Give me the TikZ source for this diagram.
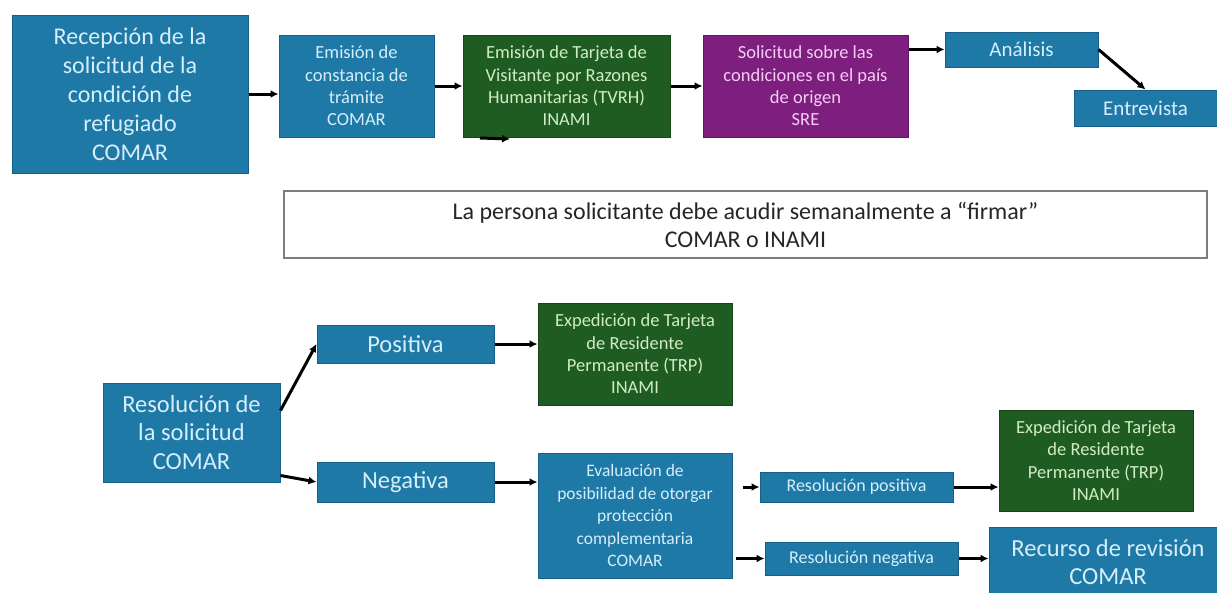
\documentclass[tikz,border=0pt]{standalone}
\usepackage{fontspec}
\setmainfont{Carlito}
\usetikzlibrary{arrows.meta,calc}
\definecolor{cblue}{RGB}{31,121,167}
\definecolor{cbluedark}{RGB}{22,95,135}
\definecolor{cbluetext}{RGB}{214,238,250}
\definecolor{cgreen}{RGB}{30,92,34}
\definecolor{cgreendark}{RGB}{22,70,26}
\definecolor{cgreentext}{RGB}{210,236,196}
\definecolor{cpurple}{RGB}{126,31,128}
\definecolor{cpurpledark}{RGB}{100,22,102}
\definecolor{cpurpletext}{RGB}{244,206,244}
\definecolor{cnote}{RGB}{125,125,125}
\tikzset{
  base/.style={rectangle, inner sep=0pt, align=center},
  bluebox/.style={base, fill=cblue, draw=cbluedark, line width=1pt, text=cbluetext},
  greenbox/.style={base, fill=cgreen, draw=cgreendark, line width=1pt, text=cgreentext},
  purplebox/.style={base, fill=cpurple, draw=cpurpledark, line width=1pt, text=cpurpletext},
  notebox/.style={base, fill=white, draw=cnote, line width=2pt, text=black!85},
  flow/.style={-{Latex[length=8pt,width=8pt]}, line width=3pt, black},
  fxl/.style={font=\fontsize{24}{29}\selectfont},
  fl/.style={font=\fontsize{24.5}{28.5}\selectfont},
  fn/.style={font=\fontsize{24}{28}\selectfont},
  fm/.style={font=\fontsize{21}{24}\selectfont},
  fs/.style={font=\fontsize{18.5}{22.3}\selectfont},
  fe/.style={font=\fontsize{17.5}{22.5}\selectfont},
  fxs/.style={font=\fontsize{18}{20}\selectfont},
}
\begin{document}
\begin{tikzpicture}[x=1pt,y=-1pt]
\useasboundingbox (0,0) rectangle (1217,592);
\clip (0,0) rectangle (1217,592);
\fill[white] (0,0) rectangle (1217,592);

% top row
\node[bluebox, fxl, minimum width=236pt, minimum height=158pt] (A) at (130,94)
  {Recepción de la\\solicitud de la\\condición de\\refugiado\\COMAR};
\node[bluebox, fs, minimum width=155pt, minimum height=102pt] (B) at (356.5,86)
  {Emisión de\\constancia de\\trámite\\COMAR};
\node[greenbox, fs, minimum width=207pt, minimum height=102pt] (C) at (566.5,86)
  {Emisión de Tarjeta de\\Visitante por Razones\\Humanitarias (TVRH)\\INAMI};
\node[purplebox, fs, minimum width=205pt, minimum height=102pt] (D) at (805.5,86)
  {Solicitud sobre las\\condiciones en el país\\de origen\\SRE};
\node[bluebox, fm, minimum width=153pt, minimum height=35pt] (E) at (1021.5,49.5) {Análisis};
\node[bluebox, fm, minimum width=143pt, minimum height=36pt] (F) at (1145.5,108) {Entrevista};

\coordinate (s1) at (480,138);
\coordinate (s2) at (510,139);

% note
\node[notebox, fn, minimum width=923pt, minimum height=67pt] (M) at (745.5,224.5)
  {La persona solicitante debe acudir semanalmente a “firmar”\\COMAR o INAMI};

% bottom part
\node[bluebox, fl, minimum width=177pt, minimum height=99pt] (R) at (191.5,432.5)
  {Resolución de\\la solicitud\\COMAR};
\node[bluebox, fl, minimum width=177pt, minimum height=38pt] (P) at (405.5,344) {Positiva};
\node[bluebox, fl, minimum width=177pt, minimum height=40pt] (N) at (405.5,482) {Negativa};
\node[greenbox, fs, minimum width=194pt, minimum height=102pt] (X1) at (635,354)
  {Expedición de Tarjeta\\de Residente\\Permanente (TRP)\\INAMI};
\node[bluebox, fe, minimum width=194pt, minimum height=125pt] (V) at (635,515.5)
  {Evaluación de\\posibilidad de otorgar\\protección\\complementaria\\COMAR};
\node[bluebox, fxs, minimum width=193pt, minimum height=30pt] (RP) at (856.5,487) {Resolución positiva};
\node[bluebox, fxs, minimum width=193pt, minimum height=33pt] (RN) at (861.5,558.5) {Resolución negativa};
\node[greenbox, fs, minimum width=194pt, minimum height=101pt] (X2) at (1096,460.5)
  {Expedición de Tarjeta\\de Residente\\Permanente (TRP)\\INAMI};
\node[bluebox, fl, minimum width=238pt, minimum height=70pt] (RC) at (1108,562)
  {Recurso de revisión\\COMAR};

% connectors top
\draw[flow] (A.east) -- (A.east -| B.west);
\draw[flow] (B.east) -- (C.west);
\draw[flow] (C.east) -- (D.west);
\draw[flow] (D.east |- E.west) -- (E.west);
\draw[flow] (E.east) -- (F.north);
\draw[flow] (s1) -- (s2);

% connectors bottom
\draw[flow] ($(R.east)+(0,-22)$) -- (P.west);
\draw[flow] ($(R.south east)+(0,-7)$) -- (N.west);
\draw[flow] (P.east) -- (P.east -| X1.west);
\draw[flow] (N.east) -- (N.east -| V.west);
\draw[flow, shorten <=10pt] (RP.west -| V.east) -- (RP.west);
\draw[flow, shorten <=3pt] (RN.west -| V.east) -- (RN.west);
\draw[flow] (RP.east) -- (RP.east -| X2.west);
\draw[flow] (RN.east) -- (RN.east -| RC.west);
\end{tikzpicture}
\end{document}
